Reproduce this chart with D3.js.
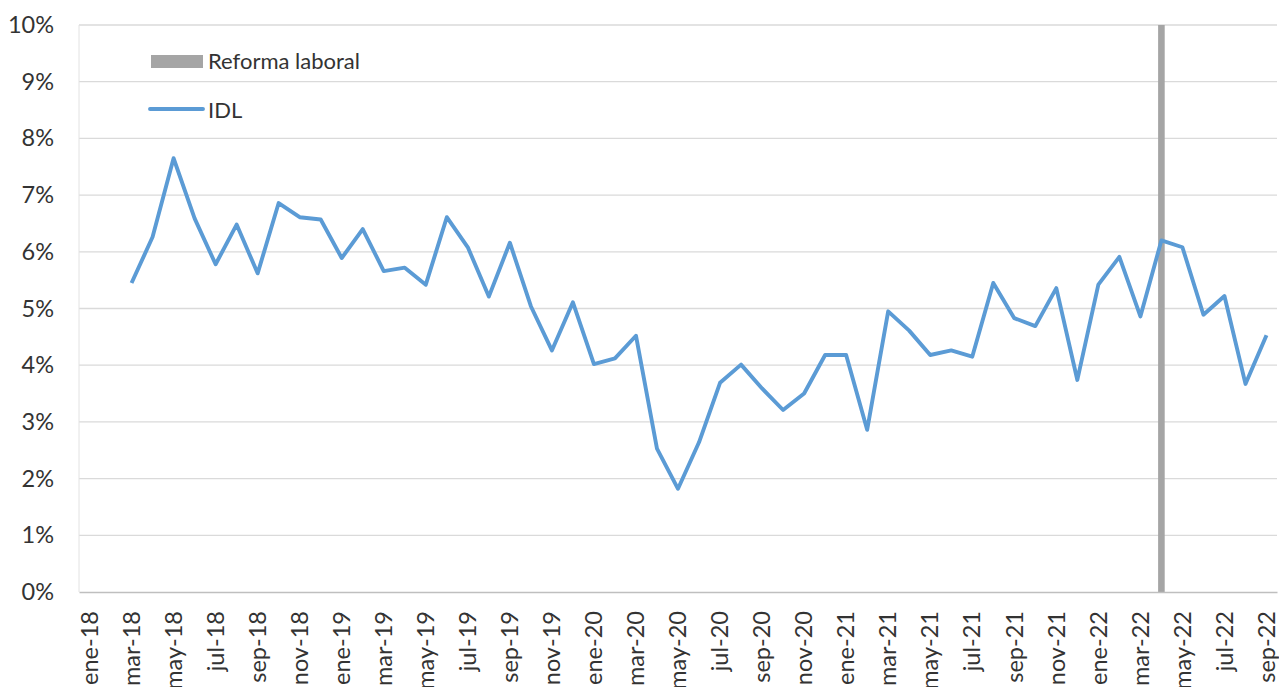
<!DOCTYPE html>
<html>
<head>
<meta charset="utf-8">
<script src="https://cdn.jsdelivr.net/npm/d3@7"></script>
<style>
  body { margin: 0; background: #fff; }
  text { font-family: Lato, "Open Sans", sans-serif; fill: #333; }
</style>
</head>
<body>
<div id="graph1"></div>
<script>
const width = 1279;
const height = 687;

// categories (one per month), labels shown every other month
let months = [
  "ene-18","feb-18","mar-18","abr-18","may-18","jun-18","jul-18","ago-18","sep-18","oct-18","nov-18","dic-18",
  "ene-19","feb-19","mar-19","abr-19","may-19","jun-19","jul-19","ago-19","sep-19","oct-19","nov-19","dic-19",
  "ene-20","feb-20","mar-20","abr-20","may-20","jun-20","jul-20","ago-20","sep-20","oct-20","nov-20","dic-20",
  "ene-21","feb-21","mar-21","abr-21","may-21","jun-21","jul-21","ago-21","sep-21","oct-21","nov-21","dic-21",
  "ene-22","feb-22","mar-22","abr-22","may-22","jun-22","jul-22","ago-22","sep-22"
];

// IDL series (%), starts in mar-18
let idl = [
  null, null, 5.45, 6.26, 7.65, 6.59, 5.78, 6.48, 5.62, 6.86, 6.61, 6.57,
  5.89, 6.40, 5.66, 5.72, 5.42, 6.61, 6.08, 5.21, 6.16, 5.04, 4.26, 5.11,
  4.02, 4.12, 4.52, 2.53, 1.82, 2.64, 3.69, 4.01, 3.59, 3.21, 3.50, 4.18,
  4.18, 2.86, 4.95, 4.61, 4.18, 4.26, 4.15, 5.45, 4.83, 4.69, 5.36, 3.74,
  5.42, 5.91, 4.86, 6.20, 6.08, 4.89, 5.22, 3.67, 4.53
];

// Reforma laboral marker bar
let reformaMonths = ["abr-22"];
let reformaValues = [10];

let yTicks = [0, 1, 2, 3, 4, 5, 6, 7, 8, 9, 10];

let margin = {left: 79, right: 2, top: 25, bottom: 95};

let svg = d3.select("#graph1")
    .append("svg")
    .attr("width", width)
    .attr("height", height);

let x = d3.scaleBand()
    .domain(months)
    .range([margin.left, width - margin.right]);

let y = d3.scaleLinear()
    .domain([0, 10])
    .range([height - margin.bottom, margin.top]);

// gridlines
svg.append("g")
    .selectAll("line")
    .data(yTicks.filter(d => d > 0))
    .enter()
    .append("line")
    .attr("x1", margin.left)
    .attr("x2", width - margin.right)
    .attr("y1", d => y(d))
    .attr("y2", d => y(d))
    .attr("stroke", "#dadada")
    .attr("stroke-width", 1.3);

// left border of plot
svg.append("line")
    .attr("x1", margin.left).attr("x2", margin.left)
    .attr("y1", y(10)).attr("y2", y(0))
    .attr("stroke", "#e2e2e2")
    .attr("stroke-width", 1);

// y axis labels
let yAxis = svg.append("g")
    .attr("transform", `translate(${margin.left}, 0)`)
    .call(d3.axisLeft(y).tickValues(yTicks).tickSize(0).tickPadding(25).tickFormat(d => d + "%"));
yAxis.select(".domain").remove();
yAxis.selectAll("text")
    .style("font-size", "23.5px")
    .attr("fill", "#333");

// reforma laboral bar
svg.append("g")
    .selectAll("rect")
    .data(reformaMonths)
    .enter()
    .append("rect")
    .attr("x", (d) => x(d) + x.bandwidth() / 2 - 3.3)
    .attr("width", 6.6)
    .attr("y", (d, i) => y(reformaValues[i]))
    .attr("height", (d, i) => y(0) - y(reformaValues[i]))
    .attr("fill", "#a5a5a5");

// x axis
let xAxis = svg.append("g")
    .attr("transform", `translate(0, ${y(0)})`)
    .call(d3.axisBottom(x)
        .tickValues(months.filter((d, i) => i % 2 === 0))
        .tickSize(0)
        .tickPadding(0));
xAxis.select(".domain")
    .attr("stroke", "#bfbfbf")
    .attr("stroke-width", 1.6);
xAxis.selectAll("text")
    .style("font-size", "23.5px")
    .attr("fill", "#333")
    .style("text-anchor", "end")
    .attr("dy", "0.35em")
    .attr("transform", "translate(0, 19) rotate(-90)")
    .attr("x", 0)
    .attr("y", 0);

// IDL line
let line = d3.line()
    .defined(d => d.v !== null)
    .x(d => x(d.m) + x.bandwidth() / 2)
    .y(d => y(d.v));

svg.append("path")
    .datum(months.map((m, i) => ({m: m, v: idl[i]})))
    .attr("d", line)
    .attr("fill", "none")
    .attr("stroke", "#5b9bd5")
    .attr("stroke-width", 3.9)
    .attr("stroke-linejoin", "round");

// legend
let legend = svg.append("g");
legend.append("rect")
    .attr("x", 151).attr("y", 55)
    .attr("width", 52).attr("height", 13)
    .attr("fill", "#a5a5a5");
legend.append("text")
    .attr("x", 208).attr("y", 61.5)
    .attr("dy", "0.35em")
    .style("font-size", "22px")
    .text("Reforma laboral");
legend.append("line")
    .attr("x1", 150).attr("x2", 203)
    .attr("y1", 109).attr("y2", 109)
    .attr("stroke", "#5b9bd5")
    .attr("stroke-width", 3.9)
    .attr("stroke-linecap", "round");
legend.append("text")
    .attr("x", 208).attr("y", 110)
    .attr("dy", "0.35em")
    .style("font-size", "22px")
    .text("IDL");
</script>
</body>
</html>
